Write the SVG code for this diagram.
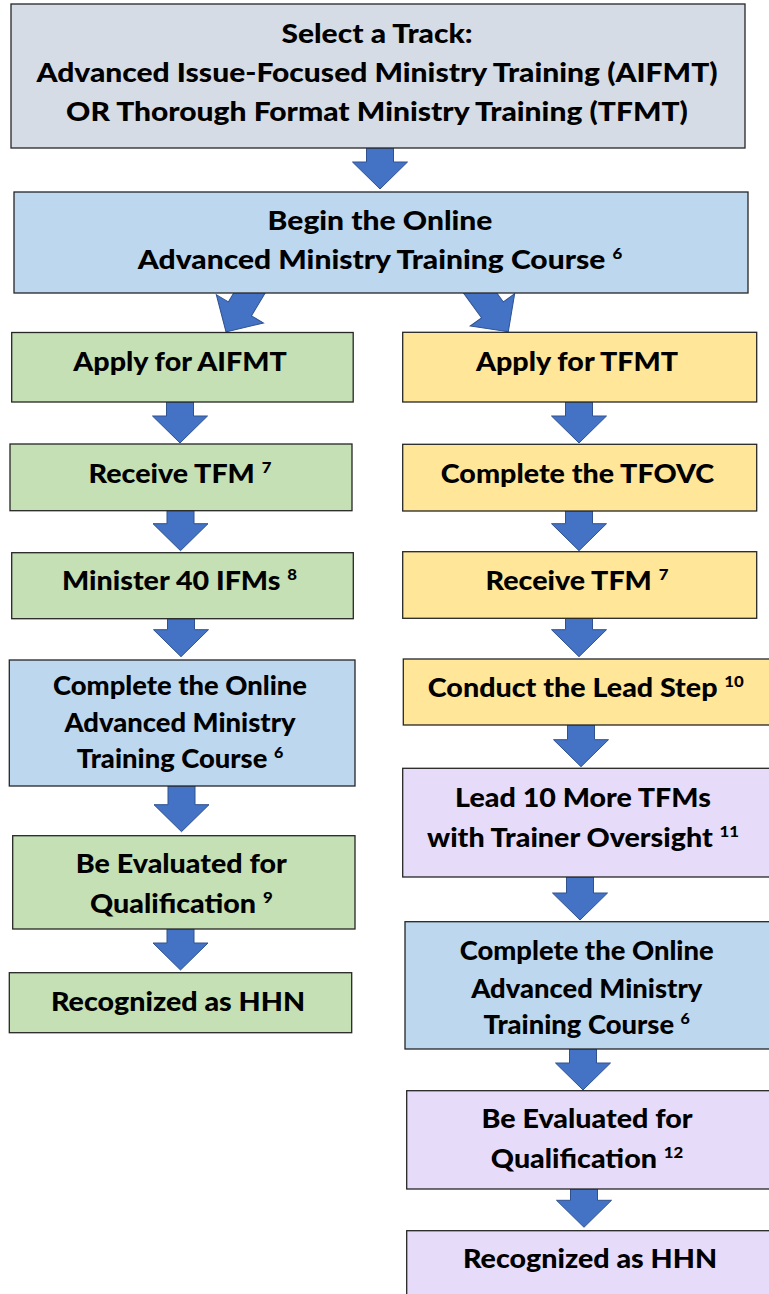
<svg xmlns="http://www.w3.org/2000/svg" width="769" height="1294" viewBox="0 0 769 1294">
<style>
.box{stroke:#262626;stroke-width:1.3}
.gray{fill:#D6DCE5}.blue{fill:#BDD7EE}.green{fill:#C5E0B4}.yellow{fill:#FFE699}.purple{fill:#E6DCFA}
.t{font-family:Lato,"Open Sans","Liberation Sans",sans-serif;font-weight:900;font-size:25.6px;fill:#000;text-anchor:middle}
.big{font-size:26.8px}
.sup{font-size:15px}
.arr{fill:#4472C4;stroke:#2F528F;stroke-width:1}
</style>
<defs>
<polygon id="diag" points="-13.5,-66 13.5,-66 13.5,-27 27.5,-27 0,0 -27.5,-27 -13.5,-27"/>
</defs>
<g id="connectors">
<polygon class="arr" points="366.5,148 393.5,148 393.5,162 407.5,162 380,189 352.5,162 366.5,162"/>
<use href="#diag" class="arr" transform="translate(226,332) rotate(31)"/>
<use href="#diag" class="arr" transform="translate(508.3,331.7) rotate(-36)"/>
<polygon class="arr" points="166.5,402 193.5,402 193.5,416 207.5,416 180,443 152.5,416 166.5,416"/>
<polygon class="arr" points="167,510.7 194,510.7 194,523.7 208,523.7 180.5,550.7 153,523.7 167,523.7"/>
<polygon class="arr" points="167.5,618.7 194.5,618.7 194.5,629.7 208.5,629.7 181,656.7 153.5,629.7 167.5,629.7"/>
<polygon class="arr" points="168,786 195,786 195,804.7 209,804.7 181.5,831.7 154,804.7 168,804.7"/>
<polygon class="arr" points="167,929 194,929 194,943 208,943 180.5,970 153,943 167,943"/>
<polygon class="arr" points="565.5,402 592.5,402 592.5,416 606.5,416 579,443 551.5,416 565.5,416"/>
<polygon class="arr" points="565.5,511 592.5,511 592.5,523.7 606.5,523.7 579,550.7 551.5,523.7 565.5,523.7"/>
<polygon class="arr" points="565.5,618.3 592.5,618.3 592.5,629.7 606.5,629.7 579,656.7 551.5,629.7 565.5,629.7"/>
<polygon class="arr" points="567.5,725 594.5,725 594.5,739.7 608.5,739.7 581,766.7 553.5,739.7 567.5,739.7"/>
<polygon class="arr" points="566.5,877 593.5,877 593.5,893 607.5,893 580,920 552.5,893 566.5,893"/>
<polygon class="arr" points="569.5,1049 596.5,1049 596.5,1063 610.5,1063 583,1090 555.5,1063 569.5,1063"/>
<polygon class="arr" points="570.5,1189 597.5,1189 597.5,1200.3 611.5,1200.3 584,1227.3 556.5,1200.3 570.5,1200.3"/>
</g>
<g id="select-track">
<rect class="box gray" x="11" y="4" width="734" height="144"/>
<text class="t big" transform="translate(377,0) scale(1.12,1)"><tspan x="0" y="43.3">Select a Track:</tspan><tspan x="0" y="82">Advanced Issue-Focused Ministry Training (AIFMT)</tspan><tspan x="0" y="121">OR Thorough Format Ministry Training (TFMT)</tspan></text>
</g>
<g id="begin-online">
<rect class="box blue" x="14" y="192" width="734" height="101"/>
<text class="t big" transform="translate(380,0) scale(1.12,1)"><tspan x="0" y="230">Begin the Online</tspan><tspan x="0" y="269.3">Advanced Ministry Training Course <tspan class="sup" dy="-10">6</tspan></tspan></text>
</g>
<g id="apply-aifmt">
<rect class="box green" x="11.7" y="332.5" width="341.5" height="69.5"/>
<text class="t" transform="translate(180,371) scale(1.12,1)">Apply for AIFMT</text>
</g>
<g id="receive-tfm-left">
<rect class="box green" x="10" y="444" width="342" height="66.7"/>
<text class="t" transform="translate(180,483) scale(1.12,1)">Receive TFM <tspan class="sup" dy="-10">7</tspan></text>
</g>
<g id="minister-40">
<rect class="box green" x="11.7" y="552.7" width="341.6" height="66"/>
<text class="t" transform="translate(179.5,590) scale(1.12,1)">Minister 40 IFMs <tspan class="sup" dy="-10">8</tspan></text>
</g>
<g id="complete-left">
<rect class="box blue" x="9.3" y="660" width="345.7" height="126"/>
<text class="t" transform="translate(180,0) scale(1.07,1)"><tspan x="0" y="695">Complete the Online</tspan><tspan x="0" y="731.7">Advanced Ministry</tspan><tspan x="0" y="767.7">Training Course <tspan class="sup" dy="-10">6</tspan></tspan></text>
</g>
<g id="evaluated-left">
<rect class="box green" x="12.7" y="835.7" width="342.3" height="93.3"/>
<text class="t" transform="translate(181.3,0) scale(1.12,1)"><tspan x="0" y="873.3">Be Evaluated for</tspan><tspan x="0" y="913.3">Qualification <tspan class="sup" dy="-10">9</tspan></tspan></text>
</g>
<g id="recognized-left">
<rect class="box green" x="9.3" y="972.7" width="342.4" height="60"/>
<text class="t" transform="translate(178,1011) scale(1.12,1)">Recognized as HHN</text>
</g>
<g id="apply-tfmt">
<rect class="box yellow" x="402.7" y="332.3" width="354" height="69.7"/>
<text class="t" transform="translate(577,371) scale(1.12,1)">Apply for TFMT</text>
</g>
<g id="complete-tfovc">
<rect class="box yellow" x="402.7" y="444.3" width="354" height="66.7"/>
<text class="t" transform="translate(577.5,483) scale(1.12,1)">Complete the TFOVC</text>
</g>
<g id="receive-tfm-right">
<rect class="box yellow" x="402.7" y="551.7" width="354" height="66.6"/>
<text class="t" transform="translate(577,590) scale(1.12,1)">Receive TFM <tspan class="sup" dy="-10">7</tspan></text>
</g>
<g id="conduct-lead">
<rect class="box yellow" x="403.3" y="659" width="370" height="66"/>
<text class="t" transform="translate(585.8,696.7) scale(1.12,1)">Conduct the Lead Step <tspan class="sup" dy="-10">10</tspan></text>
</g>
<g id="lead-10">
<rect class="box purple" x="402.7" y="768.3" width="370" height="108.7"/>
<text class="t" transform="translate(583,0) scale(1.12,1)"><tspan x="0" y="806.7">Lead 10 More TFMs</tspan><tspan x="0" y="846.7">with Trainer Oversight <tspan class="sup" dy="-10">11</tspan></tspan></text>
</g>
<g id="complete-right">
<rect class="box blue" x="405" y="921.7" width="370" height="127.3"/>
<text class="t" transform="translate(586.7,0) scale(1.07,1)"><tspan x="0" y="960">Complete the Online</tspan><tspan x="0" y="997.7">Advanced Ministry</tspan><tspan x="0" y="1034.3">Training Course <tspan class="sup" dy="-10">6</tspan></tspan></text>
</g>
<g id="evaluated-right">
<rect class="box purple" x="406.7" y="1090.7" width="370" height="98.3"/>
<text class="t" transform="translate(587,0) scale(1.12,1)"><tspan x="0" y="1128.3">Be Evaluated for</tspan><tspan x="0" y="1167.7">Qualification <tspan class="sup" dy="-10">12</tspan></tspan></text>
</g>
<g id="recognized-right">
<rect class="box purple" x="406.7" y="1230.7" width="370" height="80"/>
<text class="t" transform="translate(590,1268.3) scale(1.12,1)">Recognized as HHN</text>
</g>
</svg>
